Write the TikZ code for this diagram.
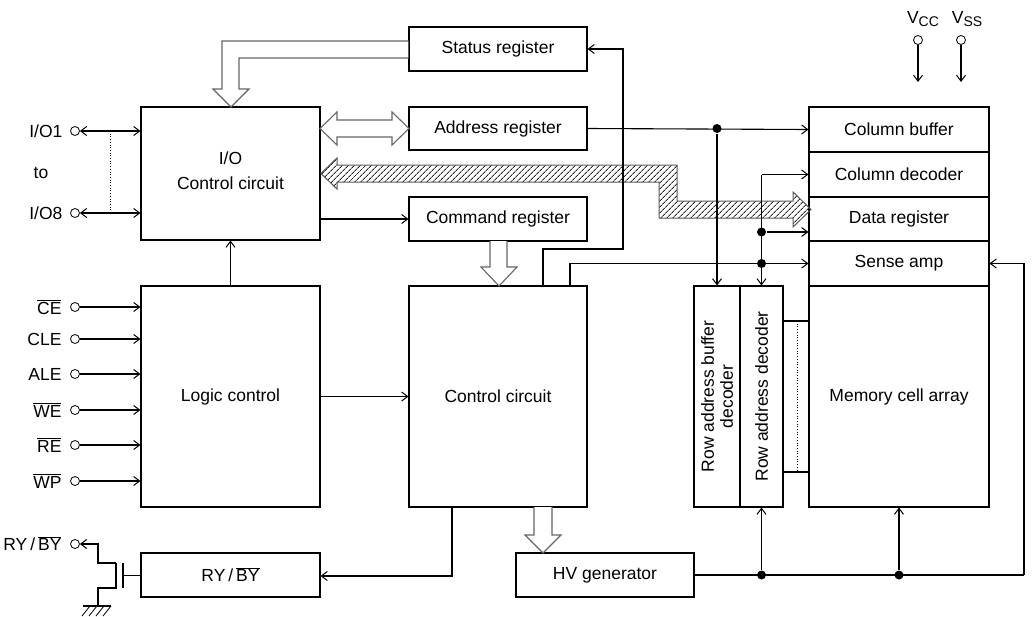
\documentclass[tikz,border=0pt]{standalone}
\usepackage{fontspec}
\setmainfont{Liberation Sans}
\usetikzlibrary{arrows.meta,patterns.meta}
\newcommand{\ovl}[1]{\(\overline{\hbox{#1}}\)}
\begin{document}
\begin{tikzpicture}[x=1pt,y=-1pt,
  font=\fontsize{17.5}{25}\selectfont,
  line width=1.1pt,
  >={Straight Barb[length=6pt,width=9pt,line width=1pt]},
  box/.style={draw,inner sep=0pt,align=center},
  sz/.style 2 args={minimum width=#1pt,minimum height=#2pt},
  pin/.style={circle,draw,line width=0.8pt,inner sep=0pt,minimum size=9pt},
  dot/.style={circle,fill,inner sep=0pt,minimum size=9pt},
  plabel/.style={anchor=east,inner sep=0pt},
  hollow/.style={draw=black!60,fill=white,line width=1.1pt},
  vtext/.style={rotate=90,align=center,inner sep=0pt}]
\useasboundingbox (0,0) rectangle (1036,616);

% boxes
\node[box,sz={179}{133}] (io) at (230.5,173.5) {};
\node[align=center,inner sep=0pt] at (230.5,170.5) {I/O\\Control circuit};
\node[box,sz={179}{221}] (logic) at (230.5,396.5) {Logic control};
\node[box,sz={178}{221}] (ctrl) at (498,396.5) {Control circuit};
\node[box,sz={178}{44}] (status) at (498,49) {Status register};
\node[box,sz={178}{43}] (addr) at (498,128.5) {Address register};
\node[box,sz={178}{44}] (cmd) at (498,219) {Command register};
\node[box,sz={178}{44}] (hv) at (605,575) {HV generator};
\node[box,sz={179}{44}] (ry) at (230.5,575) {RY\,/\,\ovl{BY}};
\node[box,sz={180}{45}] (colbuf) at (899,129.5) {Column buffer};
\node[box,sz={180}{45}] (coldec) at (899,174.5) {Column decoder};
\node[box,sz={180}{44}] (datareg) at (899,219) {Data register};
\node[box,sz={180}{45}] (sense) at (899,263.5) {Sense amp};
\node[box,sz={180}{221}] (mem) at (899,396.5) {Memory cell array};
\node[box,sz={46}{221}] (rabd) at (717,396.5) {};
\node[box,sz={43}{221}] (rad) at (761.5,396.5) {};
\node[vtext,font=\fontsize{17.5}{19}\selectfont] at (rabd.center) {Row address buffer\\decoder};
\node[vtext] at (rad.center) {Row address decoder};

% hatched bus arrow
\path[draw=black!65,line width=1pt,pattern={Lines[angle=45,distance=4pt,line width=0.9pt]},pattern color=black!85]
 (321,173.5) -- (337,158) -- (337,165) -- (677,165) -- (677,201) -- (793,201) -- (793,192)
 -- (811,209.5) -- (793,227) -- (793,218) -- (659,218) -- (659,182) -- (337,182) -- (337,189) -- cycle;

% hollow arrows
\draw[hollow] (status.west |- 0,41) -- (222,41) -- (222,89) -- (213,89) -- (231,107) -- (249,89) -- (239,89) -- (239,58) -- (status.west |- 0,58);
\draw[hollow] (320,128.5) -- (337,112) -- (337,120) -- (392,120) -- (392,112) -- (409,128.5)
 -- (392,145) -- (392,137) -- (337,137) -- (337,145) -- cycle;
\draw[hollow] (490,241) -- (490,267) -- (481,267) -- (499,286) -- (517,267) -- (507,267) -- (507,241);
\draw[hollow] (534,507) -- (534,535) -- (525,535) -- (543,553) -- (561,535) -- (552,535) -- (552,507);

% I/O pins
\node[pin] (io1) at (75,131) {};
\node[pin] (io8) at (75,213) {};
\node[plabel] at (63,131) {I/O1};
\node[plabel] at (63,213) {I/O8};
\node[inner sep=0pt] at (41,173) {to};
\draw[<->] (io1) -- (io.west |- io1);
\draw[<->] (io8) -- (io.west |- io8);
\draw[line width=0.7pt,dotted] (110,131) -- (110,213);

% logic pins
\foreach \nm/\yy/\lab in {ce/307/\ovl{CE},cle/339/CLE,ale/374/ALE,we/410/\ovl{WE},re/445/\ovl{RE},wp/481/\ovl{WP}}{
  \node[pin] (\nm) at (75,\yy) {};
  \node[plabel] at (62,\yy) {\lab};
  \draw[->] (\nm) -- (logic.west |- \nm);
}

% internal connections
\draw[->] (logic.north) -- (io.south);
\draw[->] (logic.east) -- (ctrl.west);
\draw[->] (io.east |- cmd) -- (cmd.west);

% address register fan-out
\node[dot] (d1) at (rabd.north |- addr.east) {};
\draw[->] (addr.east) -- (colbuf.west);
\draw[->] (d1) -- (rabd.north);

% control to status register
\coordinate (cs0) at (543,286);
\coordinate (cs1) at (543,249);
\coordinate (cs2) at (623,249);
\draw[->] (cs0) -- (cs1) -- (cs2) -- (cs2 |- status.east) -- (status.east);

% control to sense amp / column decoder / data register
\coordinate (sa0) at (570,286);
\coordinate (sa1) at (570,263.5);
\coordinate (cd0) at (rad.north |- coldec.west);
\node[dot] (d2) at (rad.north |- 0,232) {};
\node[dot] (d3) at (rad.north |- sense.west) {};
\draw[->] (sa0) -- (sa1) -- (sense.west);
\draw[->] (cd0) -- (coldec.west);
\draw[->] (cd0) -- (rad.north);
\draw[->] (d2) -- (datareg.west |- d2);

% memory interface lines
\coordinate (m1) at (rad.east |- 0,321);
\coordinate (m2) at (rad.east |- 0,472);
\draw (m1) -- (mem.west |- m1);
\draw (m2) -- (mem.west |- m2);
\draw[line width=0.7pt,dotted] (797,321) -- (797,472);

% HV generator distribution
\coordinate (hr) at (1024,575);
\node[dot] (d4) at (rad.south |- hv.east) {};
\node[dot] (d5) at (mem.south |- hv.east) {};
\draw (hv.east) -- (hr);
\draw[->] (hr) -- (hr |- sense.east) -- (sense.east);
\draw[->] (d4) -- (rad.south);
\draw[->] (d5) -- (mem.south);

% control to RY/BY
\coordinate (rb0) at (452,507);
\draw[->] (rb0) -- (rb0 |- 0,576) -- (ry.east |- 0,576);

% RY/BY output transistor
\node[pin] (rypin) at (75,544) {};
\node[plabel] at (62,544) {RY\,/\,\ovl{BY}};
\coordinate (t1) at (116,563);
\coordinate (t2) at (116,588);
\coordinate (g0) at (123,575.5);
\draw[->] (t1) -- (98,563) -- (98,544) -- (rypin);
\draw (t1) -- (t2) -- (98,588) -- (98,606);
\draw (123,563) -- (123,588);
\draw (g0) -- (ry.west |- g0);
\draw (83,606) -- (111,606);
\foreach \gx in {90,97,104,111} \draw[line width=0.8pt] (\gx,606) -- (\gx-8,616);

% supply pins
\node[pin] (vcc) at (918,40) {};
\node[pin] (vss) at (961,40) {};
\node[inner sep=0pt] at (923,19) {V\raisebox{-3pt}{\fontsize{14}{14}\selectfont CC}};
\node[inner sep=0pt] at (967,19) {V\raisebox{-3pt}{\fontsize{14}{14}\selectfont SS}};
\draw[->] (vcc) -- (918,82);
\draw[->] (vss) -- (961,82);
\end{tikzpicture}
\end{document}
